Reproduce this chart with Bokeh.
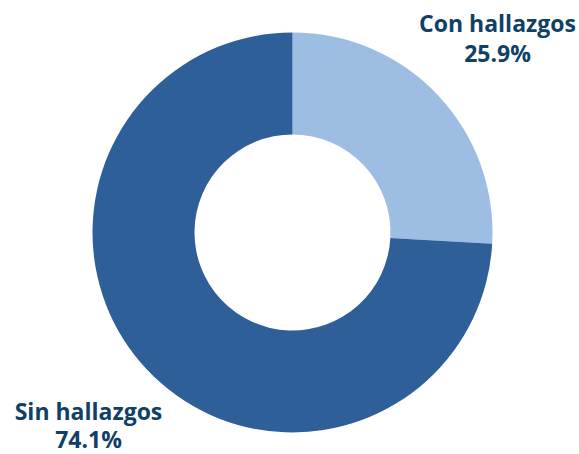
import math
from bokeh.plotting import figure
from bokeh.models import ColumnDataSource, Range1d
from bokeh.core.properties import value
from bokeh.embed import file_html
from bokeh.resources import INLINE

categories = ["Con hallazgos", "Sin hallazgos"]
shares = [25.9, 74.1]
colors = ["#9dbde3", "#2e5f99"]

W, H = 579, 454
p = figure(width=W, height=H, output_backend="svg", toolbar_location=None,
           x_range=Range1d(0, W), y_range=Range1d(0, H), min_border=0)
p.axis.visible = False
p.grid.visible = False
p.outline_line_color = None

total = sum(shares)
starts, ends = [], []
acc = 0.0
for s in shares:
    starts.append(math.pi / 2 - 2 * math.pi * acc / total)
    acc += s
    ends.append(math.pi / 2 - 2 * math.pi * acc / total)

cx, cy = 292, H - 232
src = ColumnDataSource(dict(start=starts, end=ends, color=colors))
p.annular_wedge(x=cx, y=cy, inner_radius=98, outer_radius=200,
                start_angle="start", end_angle="end", direction="clock",
                color="color", line_color=None, source=src)

name_pos = [(497, H - 22), (88, H - 410)]
pct_pos = [(497, H - 52), (88, H - 438)]
tx, ty, tt = [], [], []
for i, c in enumerate(categories):
    tx += [name_pos[i][0], pct_pos[i][0]]
    ty += [name_pos[i][1], pct_pos[i][1]]
    tt += [c, f"{shares[i]:.1f}%"]
p.text(x=tx, y=ty, text=tt, text_align="center", text_baseline="middle",
       text_font=value("Open Sans"), text_font_style="bold",
       text_font_size="23px", text_color="#0f4066")

open("out.html", "w").write(file_html(p, INLINE))
